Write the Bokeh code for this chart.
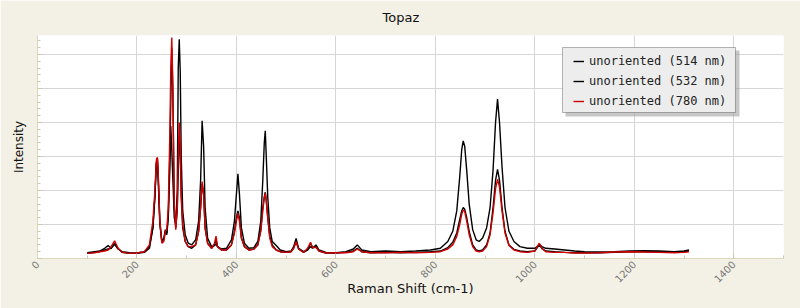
import math
from bokeh.plotting import figure
from bokeh.models import (ColumnDataSource, Legend, LegendItem, BoxAnnotation,
                          SingleIntervalTicker, Range1d)
from bokeh.embed import file_html
from bokeh.resources import INLINE

title_text = "Topaz"
x_label = "Raman Shift (cm-1)"
y_label = "Intensity"
series_names = ["unoriented (514 nm)", "unoriented (532 nm)", "unoriented (780 nm)"]
series_colors = ["#000000", "#000000", "#d00000"]

shift = [100, 115, 125, 135, 142, 148, 155, 162, 170, 185, 200, 215, 225, 232, 236, 239, 241, 243,
         246, 250, 254, 257, 260, 263, 266, 268, 270, 272, 275, 278, 281, 283, 285, 287, 289, 292,
         297, 303, 310, 318, 324, 328, 331, 334, 337, 342, 350, 356, 359, 362, 370, 380, 390, 396,
         400, 403, 406, 410, 416, 425, 435, 443, 449, 453, 456, 458, 460, 463, 467, 472, 480, 488,
         500, 510, 515, 520, 525, 535, 543, 549, 553, 560, 566, 580, 600, 620, 635, 643, 652, 670,
         700, 730, 760, 790, 810, 825, 835, 843, 849, 853, 856, 859, 863, 868, 875, 882, 888, 895,
         903, 910, 916, 921, 925, 929, 934, 940, 948, 958, 970, 985, 1000, 1005, 1009, 1014, 1022,
         1040, 1060, 1080, 1100, 1130, 1160, 1190, 1220, 1250, 1280, 1300, 1310]

int_514 = [0.17, 0.20, 0.22, 0.30, 0.38, 0.30, 0.42, 0.28, 0.20, 0.17, 0.16, 0.20, 0.35, 0.90, 1.80, 2.80, 2.95, 2.30,
           1.10, 0.50, 0.60, 0.85, 0.70, 1.20, 2.60, 3.90, 3.20, 2.40, 1.20, 1.00, 2.00, 5.60, 6.45, 5.50, 3.00, 1.40,
           0.70, 0.45, 0.40, 0.55, 1.10, 2.30, 4.05, 3.30, 1.50, 0.60, 0.35, 0.38, 0.42, 0.35, 0.28, 0.30, 0.55, 1.10,
           1.90, 2.49, 1.90, 0.90, 0.45, 0.30, 0.32, 0.50, 1.10, 2.30, 3.40, 3.76, 3.00, 1.80, 0.90, 0.50, 0.38, 0.25,
           0.20, 0.22, 0.35, 0.59, 0.30, 0.20, 0.25, 0.35, 0.30, 0.40, 0.25, 0.18, 0.17, 0.20, 0.28, 0.40, 0.25, 0.20,
           0.22, 0.20, 0.22, 0.25, 0.30, 0.50, 0.80, 1.40, 2.40, 3.20, 3.46, 3.30, 2.60, 1.60, 0.85, 0.55, 0.50, 0.60,
           0.90, 1.50, 2.60, 4.00, 4.69, 4.00, 2.70, 1.50, 0.80, 0.50, 0.35, 0.30, 0.30, 0.35, 0.42, 0.35, 0.30,
           0.28, 0.25, 0.22, 0.20, 0.19, 0.20, 0.22, 0.23, 0.22, 0.20, 0.22, 0.25]

int_532 = [0.15, 0.18, 0.20, 0.25, 0.28, 0.30, 0.45, 0.30, 0.18, 0.15, 0.15, 0.18, 0.30, 0.90, 1.80, 2.80, 2.95, 2.20,
           1.00, 0.50, 0.55, 0.80, 0.75, 1.30, 3.00, 4.60, 6.20, 5.00, 1.50, 0.90, 1.40, 2.50, 3.60, 3.20, 1.80, 0.90,
           0.50, 0.35, 0.30, 0.40, 0.80, 1.50, 2.20, 1.90, 0.90, 0.45, 0.30, 0.40, 0.55, 0.35, 0.25, 0.25, 0.40, 0.80,
           1.20, 1.40, 1.20, 0.60, 0.35, 0.25, 0.28, 0.40, 0.85, 1.50, 1.80, 1.95, 1.70, 1.20, 0.65, 0.40, 0.25, 0.20,
           0.18, 0.20, 0.30, 0.50, 0.28, 0.18, 0.25, 0.45, 0.32, 0.35, 0.22, 0.16, 0.16, 0.18, 0.22, 0.30, 0.20, 0.17,
           0.18, 0.17, 0.18, 0.20, 0.22, 0.32, 0.48, 0.75, 1.15, 1.40, 1.50, 1.45, 1.20, 0.80, 0.40, 0.25, 0.22, 0.25,
           0.40, 0.75, 1.50, 2.30, 2.62, 2.30, 1.50, 0.80, 0.40, 0.27, 0.22, 0.20, 0.22, 0.32, 0.40, 0.30, 0.22,
           0.20, 0.18, 0.17, 0.17, 0.17, 0.18, 0.20, 0.20, 0.19, 0.18, 0.20, 0.22]

int_780 = [0.15, 0.17, 0.20, 0.22, 0.25, 0.35, 0.52, 0.30, 0.18, 0.15, 0.16, 0.20, 0.40, 1.10, 2.00, 2.90, 2.98, 2.40,
           1.10, 0.45, 0.50, 0.80, 0.85, 1.50, 3.60, 5.60, 6.50, 5.20, 1.60, 0.85, 1.50, 3.00, 4.00, 3.40, 1.90, 1.00,
           0.50, 0.35, 0.35, 0.40, 0.80, 1.50, 2.26, 1.90, 0.90, 0.45, 0.30, 0.45, 0.66, 0.35, 0.25, 0.25, 0.40, 0.75,
           1.10, 1.33, 1.10, 0.60, 0.35, 0.25, 0.27, 0.40, 0.80, 1.40, 1.80, 1.92, 1.70, 1.20, 0.60, 0.35, 0.25, 0.20,
           0.18, 0.20, 0.30, 0.49, 0.28, 0.18, 0.30, 0.48, 0.32, 0.33, 0.22, 0.16, 0.17, 0.17, 0.20, 0.28, 0.20, 0.17,
           0.17, 0.18, 0.17, 0.18, 0.20, 0.28, 0.40, 0.65, 1.00, 1.30, 1.43, 1.38, 1.10, 0.70, 0.35, 0.22, 0.20, 0.22,
           0.35, 0.70, 1.35, 2.05, 2.33, 2.10, 1.40, 0.75, 0.38, 0.25, 0.20, 0.18, 0.22, 0.35, 0.45, 0.30, 0.20,
           0.18, 0.18, 0.16, 0.16, 0.17, 0.19, 0.20, 0.19, 0.18, 0.17, 0.18, 0.20]

y_major_ticks = [0, 1, 2, 3, 4, 5, 6]

BG = "#f3f0e5"

p = figure(width=800, height=308, output_backend="svg", toolbar_location=None,
           x_range=Range1d(0, 1500), y_range=Range1d(0, 6.56),
           min_border_left=37, min_border_right=17, min_border_top=35, min_border_bottom=50)
p.background_fill_color = "white"
p.border_fill_color = BG
p.outline_line_color = None

p.title.text = title_text
p.title.align = "left"
p.title.vertical_align = "top"
p.title.text_font = "DejaVu Sans"
p.title.text_font_size = "13px"
p.title.text_font_style = "normal"
p.title.text_color = "#111111"
p.title.offset = 345
p.title.standoff = 17

src = ColumnDataSource(dict(x=shift, a=int_514, b=int_532, c=int_780))
r1 = p.line("x", "a", source=src, color=series_colors[0], line_width=1.4)
r2 = p.line("x", "b", source=src, color=series_colors[1], line_width=1.4)
r3 = p.line("x", "c", source=src, color=series_colors[2], line_width=1.4)

# axes
p.xaxis.ticker = SingleIntervalTicker(interval=200, num_minor_ticks=2)
p.yaxis.ticker = SingleIntervalTicker(interval=1, num_minor_ticks=5)
for ax in (p.xaxis, p.yaxis):
    ax.axis_line_color = "#dcd7bd"
    ax.major_tick_line_color = "#cfc9ad"
    ax.minor_tick_line_color = "#cfc9ad"
    ax.major_tick_in = 5
    ax.major_tick_out = 0
    ax.minor_tick_in = 3
    ax.minor_tick_out = 0
    ax.axis_label_text_font = "DejaVu Sans"
    ax.axis_label_text_font_style = "normal"
    ax.axis_label_text_color = "#111111"

p.xaxis.axis_label = x_label
p.xaxis.axis_label_text_font_size = "13px"
p.xaxis.major_label_orientation = math.pi / 4
p.xaxis.major_label_text_font = "DejaVu Sans"
p.xaxis.major_label_text_font_size = "10px"
p.xaxis.major_label_text_color = "#777777"
p.xaxis.major_label_standoff = 4
p.xaxis.axis_label_standoff = -8

p.yaxis.axis_label = y_label
p.yaxis.axis_label_text_font_size = "12px"
p.yaxis.major_label_overrides = {t: "" for t in y_major_ticks}
p.yaxis.major_label_standoff = 0
p.yaxis.axis_label_standoff = 12

p.xgrid.grid_line_color = "#d6d6d6"
p.ygrid.grid_line_color = "#d6d6d6"

# legend box with shadow
shadow = BoxAnnotation(left=565, right=739, top=50, bottom=116,
                       left_units="canvas", right_units="canvas", top_units="canvas", bottom_units="canvas",
                       fill_color="#999999", fill_alpha=0.55, line_color=None)
box = BoxAnnotation(left=562, right=735, top=47, bottom=112,
                    left_units="canvas", right_units="canvas", top_units="canvas", bottom_units="canvas",
                    fill_color="#ededed", fill_alpha=1, line_color="#111111", line_width=1)
p.add_layout(shadow)
p.add_layout(box)

legend = Legend(items=[LegendItem(label=series_names[0], renderers=[r1]),
                       LegendItem(label=series_names[1], renderers=[r2]),
                       LegendItem(label=series_names[2], renderers=[r3])],
                location=(536, 147), padding=0, spacing=0, margin=0,
                label_height=20, glyph_height=20, glyph_width=11, label_standoff=5,
                label_text_font="DejaVu Sans Mono", label_text_font_size="12px",
                label_text_color="#222222",
                background_fill_alpha=0, border_line_alpha=0)
p.add_layout(legend)

outer = BoxAnnotation(left=1, right=799, top=1, bottom=307,
                      left_units="canvas", right_units="canvas", top_units="canvas", bottom_units="canvas",
                      fill_alpha=0, line_color="#3a3a3a", line_width=2)
p.add_layout(outer)

open("out.html", "w").write(file_html(p, INLINE))
